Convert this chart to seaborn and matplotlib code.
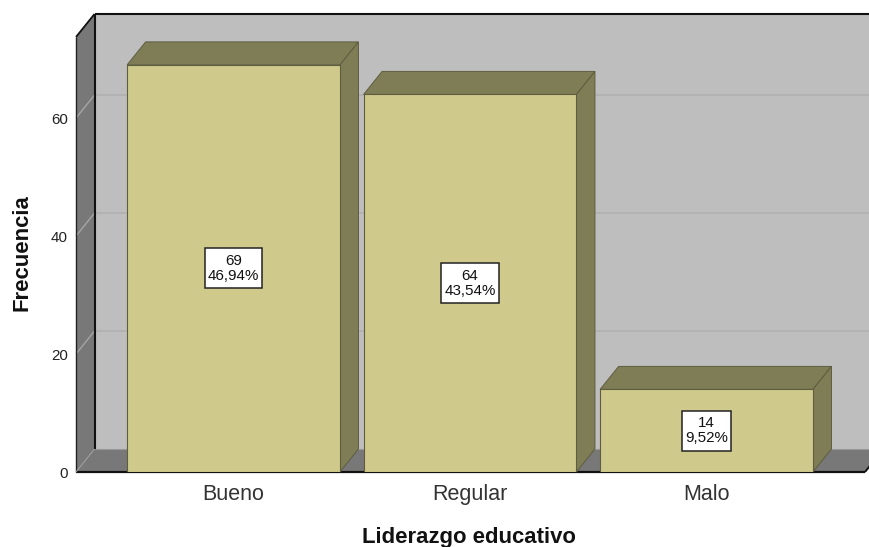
import matplotlib
matplotlib.use('Agg')
import matplotlib.pyplot as plt
from matplotlib.patches import Polygon, Rectangle
from matplotlib.transforms import Affine2D
import pandas as pd
import seaborn as sns

categorias = ['Bueno', 'Regular', 'Malo']
frecuencias = [69, 64, 14]
porcentajes = ['46,94%', '43,54%', '9,52%']
y_ticks = [0, 20, 40, 60]

COLOR_FRENTE = '#CFCA8C'
COLOR_LADO = '#7F7D55'
COLOR_BORDE = '#5E5D40'
COLOR_FONDO = '#BEBEBE'
COLOR_PARED = '#787878'
DX, DY = 18.5, 23  # profundidad del efecto 3D, en pixeles
CAJA_PAD, CAJA_H = 3, 40  # caja de las etiquetas, en pixeles

sns.set_style('white')
plt.rcParams['font.family'] = ['Liberation Sans', 'DejaVu Sans']

df = pd.DataFrame({'categoria': categorias, 'frecuencia': frecuencias})

fig = plt.figure(figsize=(8.69, 5.47), dpi=100)
ax = fig.add_axes([76 / 869, 75 / 547, 789 / 869, 435 / 547])

sns.barplot(data=df, x='categoria', y='frecuencia', color=COLOR_FRENTE, saturation=1,
            width=0.9, edgecolor=COLOR_BORDE, linewidth=0.8, ax=ax, zorder=4)
ax.set_xlim(-0.666, 2.67)
ax.set_ylim(0, 73.73)
ax.patch.set_visible(False)
sns.despine(ax=ax, left=True, bottom=True)

fondo = ax.transData + Affine2D().translate(DX, DY)
x0, x1 = ax.get_xlim()
y0, y1 = ax.get_ylim()


def poligono(puntos, color, borde='none', lw=0, z=1):
    # puntos en datos; cada uno puede ir desplazado al plano de fondo
    disp = []
    for x, y, atras in puntos:
        t = fondo if atras else ax.transData
        disp.append(t.transform((x, y)))
    ax.add_patch(Polygon(disp, closed=True, facecolor=color, edgecolor=borde, linewidth=lw,
                         transform=None, clip_on=False, zorder=z))


# paredes
poligono([(x0, y0, 1), (x1, y0, 1), (x1, y1, 1), (x0, y1, 1)], COLOR_FONDO, z=1)
poligono([(x0, y0, 0), (x0, y0, 1), (x0, y1, 1), (x0, y1, 0)], COLOR_PARED, z=1)
poligono([(x0, y0, 0), (x1, y0, 0), (x1, y0, 1), (x0, y0, 1)], COLOR_PARED, z=1)


def linea(p, q, color, lw, z=2):
    a = (fondo if p[2] else ax.transData).transform(p[:2])
    b = (fondo if q[2] else ax.transData).transform(q[:2])
    ax.add_line(plt.Line2D([a[0], b[0]], [a[1], b[1]], color=color, lw=lw, transform=None,
                           clip_on=False, zorder=z, solid_capstyle='butt'))


# rejilla
for v in y_ticks[1:]:
    linea((x0, v, 1), (x1, v, 1), '#B0B0B0', 1.2)
    linea((x0, v, 0), (x0, v, 1), '#A5A5A5', 1.0)

# bordes de la caja
linea((x0, y0, 0), (x1, y0, 0), '#111111', 1.6, z=3)
linea((x1, y0, 0), (x1, y0, 1), '#111111', 1.4, z=3)
linea((x0, y0, 0), (x0, y1, 0), '#222222', 1.0, z=3)
linea((x0, y1, 0), (x0, y1, 1), '#111111', 1.3, z=3)
linea((x0, y1, 1), (x1, y1, 1), '#111111', 1.5, z=3)
linea((x0, y0, 1), (x0, y1, 1), '#111111', 1.5, z=3)
linea((x0, y0, 0), (x0, y0, 1), '#A0A0A0', 0.7, z=3)
linea((x0, y0, 1), (x1, y0, 1), '#999999', 0.8, z=2)

# caras superior y lateral de cada barra
renderer = fig.canvas.get_renderer()
for barra, pct, n in zip(ax.patches[:len(categorias)], porcentajes, frecuencias):
    xa, xb = barra.get_x(), barra.get_x() + barra.get_width()
    h = barra.get_height()
    poligono([(xa, h, 0), (xb, h, 0), (xb, h, 1), (xa, h, 1)], COLOR_LADO, COLOR_BORDE, 0.7, z=3.5)
    poligono([(xb, 0, 0), (xb, 0, 1), (xb, h, 1), (xb, h, 0)], COLOR_LADO, COLOR_BORDE, 0.7, z=3.5)
    t = ax.text((xa + xb) / 2, h / 2, f'{n}\n{pct}', ha='center', va='center', fontsize=10.9,
                color='#111111', linespacing=1.08, zorder=6, multialignment='center')
    cx, cy = ax.transData.transform(((xa + xb) / 2, h / 2))
    ancho = t.get_window_extent(renderer).width + 2 * CAJA_PAD
    ax.add_patch(Rectangle((cx - ancho / 2, cy - CAJA_H / 2), ancho, CAJA_H, facecolor='white',
                           edgecolor='#222222', linewidth=1.1, transform=None, zorder=5))

ax.set_yticks(y_ticks)
ax.tick_params(axis='y', length=0, pad=5.8, labelsize=10.9, labelcolor='#222222')
ax.tick_params(axis='x', length=0, pad=8.5, labelsize=15.5, labelcolor='#333333')
ax.set_xlabel('Liderazgo educativo', fontsize=15.9, fontweight='bold', color='#111111')
ax.set_ylabel('Frecuencia', fontsize=15.9, fontweight='bold', color='#111111')
ax.xaxis.set_label_coords(0.4983, -0.1256)
ax.yaxis.set_label_coords(-0.0553, 0.505)

fig.savefig('out.png', dpi=100, facecolor='white')
plt.close()
